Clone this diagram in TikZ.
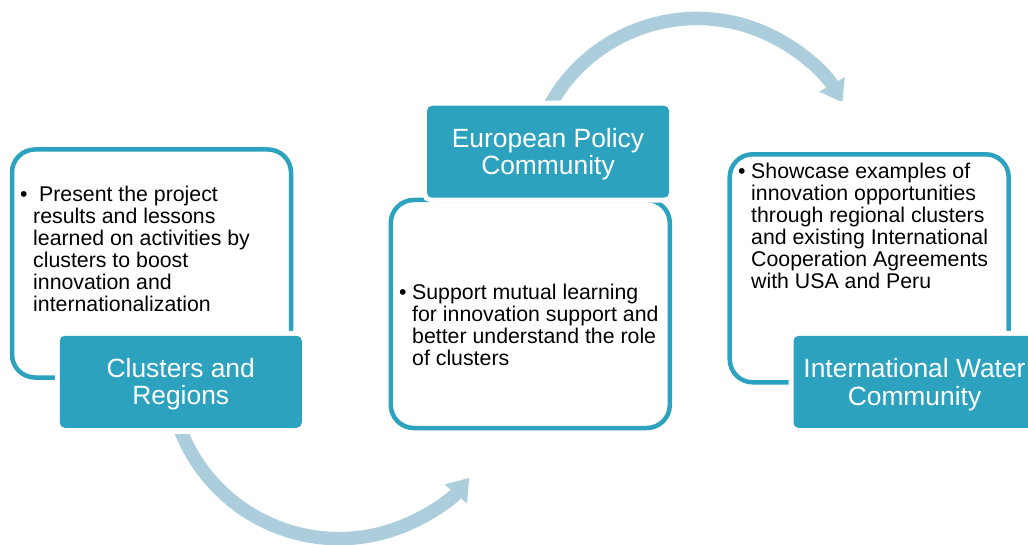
\documentclass[tikz,border=0pt]{standalone}
\usepackage{fontspec}
\setmainfont{Liberation Sans}
\usetikzlibrary{arrows.meta}
\definecolor{tealbox}{RGB}{45,162,191}
\definecolor{flowblue}{RGB}{172,206,220}
\newenvironment{bultext}{\begin{tabular}[t]{@{}p{13pt}@{}l@{}}•&}{\end{tabular}}
\begin{document}
\begin{tikzpicture}[x=1pt,y=-1pt,
  panel/.style={draw=tealbox, line width=4.5pt, rounded corners=23pt, fill=white,
    minimum width=279pt, minimum height=228pt, inner sep=0pt},
  headbox/.style={fill=tealbox, rounded corners=5pt, preaction={draw=white, line width=10pt},
    minimum width=242pt, minimum height=92pt, inner sep=0pt, text=white, align=center,
    text height=51.8pt, font=\fontsize{26.4}{27.5}\selectfont},
  body/.style={inner sep=0pt, anchor=base west,
    font=\fontsize{21.3}{21.7}\selectfont},
  flow/.style={draw=flowblue, line width=13.5pt, -{Triangle[length=21pt,width=28pt]}}
]
\useasboundingbox (0,0) rectangle (1028,545);
\clip (0,0) rectangle (1028,545);
% arc centres
\coordinate (c1) at (339,368.6);
\coordinate (c2) at (697,186.5);
% curved arrows (behind everything)
\begin{scope}
  \clip (0,434) rectangle (1028,545);
  \draw[flow] (c1) ++(160:170) arc[start angle=160, end angle=40, radius=170];
\end{scope}
\begin{scope}
  \clip (0,0) rectangle (1028,101);
  \draw[flow] (c2) ++(205:168) arc[start angle=205, end angle=330, radius=168];
\end{scope}
% white panels
\node[panel] (p1) at (151.5,263.5) {};
\node[panel] (p2) at (530.3,314) {};
\node[panel] (p3) at (869.2,268.3) {};
% teal header boxes
\node[headbox] (h1) at (180.75,381.75) {Clusters and\\Regions};
\node[headbox] (h2) at (548,151.75) {European Policy\\Community};
\node[headbox] (h3) at (914.5,381.85) {International Water\\Community};
% body texts
\node[body] (t1) at (20,201.7) {\begin{bultext}\ Present the project\\&results  and lessons\\&learned on activities by\\&clusters to boost\\&innovation and\\&internationalization\end{bultext}};
\node[body] (t2) at (399,300) {\begin{bultext}Support mutual learning\\&for innovation support and\\&better understand the role\\&of clusters\end{bultext}};
\node[body] (t3) at (738,178.3) {\begin{bultext}Showcase examples of\\&innovation opportunities\\&through regional clusters\\&and existing International\\&Cooperation Agreements\\&with USA and Peru\end{bultext}};
\end{tikzpicture}
\end{document}
